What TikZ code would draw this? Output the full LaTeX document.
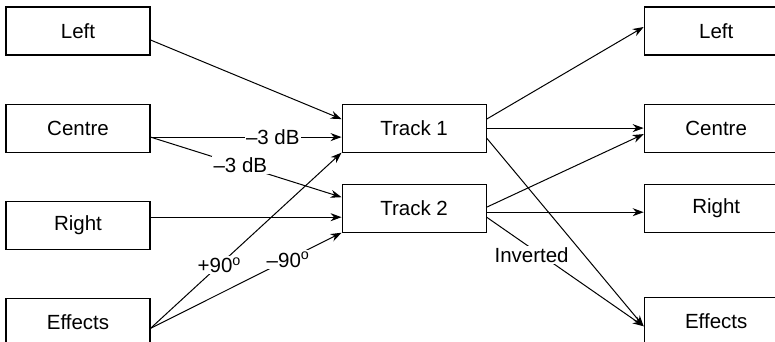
\documentclass[tikz,border=0pt]{standalone}
\usepackage{fontspec}
\setmainfont{Liberation Sans}
\usetikzlibrary{positioning, arrows.meta}
\tikzstyle{chanbox} = [
  rectangle,
  minimum width=144pt, minimum height=48pt,
  text centered, align=center,
  draw=black, line width=1.1pt
]
\tikzstyle{trackbox} = [
  rectangle,
  minimum width=144pt, minimum height=48pt,
  text centered, align=center,
  draw=black, line width=1.1pt
]
\tikzset{
  arrow/.style={
    line width=1pt,
    -{Stealth[length=11pt,width=8pt]}
  }
}
\tikzset{
  lbl/.style={fill=white, inner sep=1.5pt}
}

\begin{document}
\begin{tikzpicture}[
  font=\fontsize{20.5}{24}\selectfont,
  node distance=48pt and 48pt
]
\useasboundingbox (0,0) rectangle (775pt,-342pt);
\clip (0,0) rectangle (775pt,-342pt);

% ------------------------------------------------
% ENTRADAS (izquierda)
% ------------------------------------------------
\node[chanbox] (inL) at (78pt,-31pt) {Left};
\node[chanbox, below=of inL] (inC) {Centre};
\node[chanbox, below=of inC] (inR) {Right};
\node[chanbox, below=of inR] (inFX) {Effects};

% ------------------------------------------------
% PISTAS (centro)
% ------------------------------------------------
\node[trackbox, right=191pt of inC] (trk1) {Track 1};
\node[trackbox, below=31pt of trk1] (trk2) {Track 2};

% ------------------------------------------------
% SALIDAS (derecha)
% ------------------------------------------------
\node[chanbox, right=157pt of trk1] (outC) {Centre};
\node[chanbox, above=of outC] (outL) {Left};
\node[chanbox, right=157pt of trk2] (outR) {Right};
\node[chanbox, below=64pt of outR] (outFX) {Effects};

% ------------------------------------------------
% FLECHAS: entradas -> pistas
% ------------------------------------------------
\draw[arrow] ([yshift=-9pt]inL.east) -- ([yshift=9pt]trk1.west);
\draw[arrow] ([yshift=-9pt]inC.east) -- ([yshift=-9pt]trk1.west)
  node[lbl, pos=0.64] {--3 dB};
\draw[arrow] ([yshift=-9pt]inC.east) -- ([yshift=11pt]trk2.west)
  node[lbl, pos=0.47] {--3 dB};
\draw[arrow] ([yshift=8pt]inR.east) -- ([yshift=-9pt]trk2.west);
\draw[arrow] ([yshift=-6pt]inFX.east) -- (trk1.south west)
  node[lbl, pos=0.36] {+90\textsuperscript{o}};
\draw[arrow] ([yshift=-6pt]inFX.east) -- (trk2.south west)
  node[lbl, pos=0.72] {--90\textsuperscript{o}};

% ------------------------------------------------
% FLECHAS: pistas -> salidas
% ------------------------------------------------
\draw[arrow] ([yshift=9pt]trk1.east) -- ([yshift=4pt]outL.west);
\draw[arrow] (trk1.east) -- (outC.west);
\draw[arrow] ([yshift=-10pt]trk1.east) -- ([yshift=-5pt]outFX.west);
\draw[arrow] ([yshift=1pt]trk2.east) -- ([yshift=-6pt]outC.west);
\draw[arrow] ([yshift=-4pt]trk2.east) -- ([yshift=-4pt]outR.west);
\draw[arrow] ([yshift=-9pt]trk2.east) -- ([yshift=-5pt]outFX.west)
  node[lbl, pos=0.35, xshift=-10pt] {Inverted};

\end{tikzpicture}
\end{document}
